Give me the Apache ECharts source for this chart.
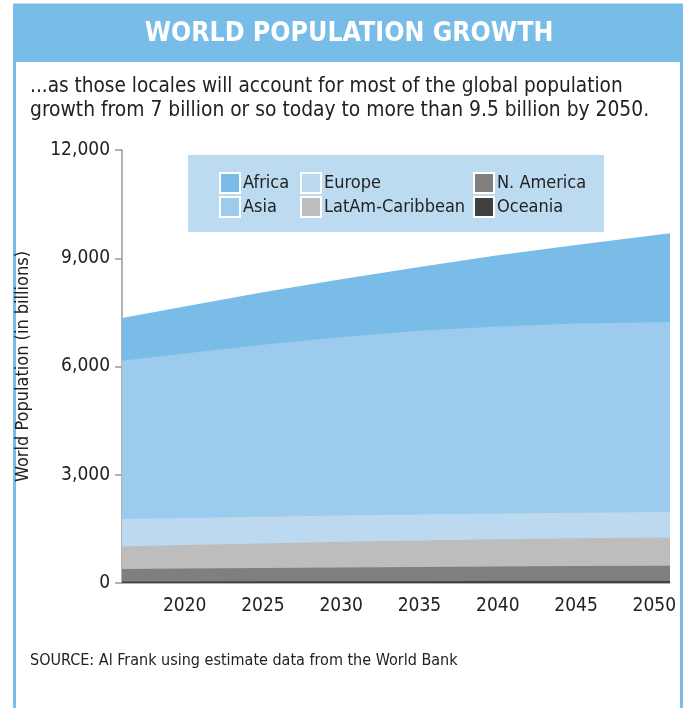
<!DOCTYPE html>
<html><head><meta charset="utf-8">
<script src="https://cdn.jsdelivr.net/npm/echarts@6/dist/echarts.min.js"></script>
<style>html,body{margin:0;padding:0;background:#fff}#c{width:688px;height:708px}</style>
</head><body><div id="c"></div>
<script>
const years = [2016, 2020, 2025, 2030, 2035, 2040, 2045, 2051];
const oceania = [40, 43, 46, 49, 51, 53, 55, 57];
const nAmerica = [348, 357, 369, 381, 394, 405, 415, 422];
const latAm = [626, 650, 680, 710, 735, 755, 770, 784];
const europe = [759, 750, 740, 730, 720, 712, 708, 704];
const asia = [4385, 4560, 4765, 4950, 5090, 5185, 5242, 5263];
const africa = [1183, 1300, 1460, 1600, 1770, 1970, 2180, 2465];
const xTickLabels = [2020, 2025, 2030, 2035, 2040, 2045, 2050];

const FONT = "'Liberation Sans Narrow', 'DejaVu Sans Condensed', sans-serif";
// bottom-to-top stacking order
const seriesDefs = [
  ['Oceania', oceania, '#404040'],
  ['N. America', nAmerica, '#7f7f7f'],
  ['LatAm-Caribbean', latAm, '#bdbdbd'],
  ['Europe', europe, '#bcd9f0'],
  ['Asia', asia, '#9ccbee'],
  ['Africa', africa, '#78bce7']
];
// cumulative sums so each series' top edge sits on the one below it
const running = years.map(() => 0);
const cumul = seriesDefs.map(([name, vals, color]) => {
  const tops = vals.map((v, i) => (running[i] += v));
  return { name, color, tops };
});
// draw from the top layer down so lower layers paint over upper ones
const series = cumul.slice().reverse().map(({ name, color, tops }) => ({
  name, type: 'line', symbol: 'none', smooth: false,
  lineStyle: { width: 0 }, itemStyle: { color },
  areaStyle: { color, opacity: 1 },
  data: years.map((y, i) => [y, tops[i]])
}));
const legendCommon = {
  orient: 'vertical', itemWidth: 20, itemHeight: 20, itemGap: 2, top: 172, padding: 0,
  icon: 'rect',
  itemStyle: { borderColor: '#ffffff', borderWidth: 2 },
  textStyle: { fontFamily: FONT, fontSize: 18, lineHeight: 20, color: '#222', padding: [0, 0, 0, -2] }
};
const chart = echarts.init(document.getElementById('c'), null, { renderer: 'canvas' });
chart.setOption({
  animation: false,
  backgroundColor: '#fff',
  graphic: [
    { type: 'rect', shape: { x: 14.5, y: 5, width: 667, height: 720 }, style: { fill: 'none', stroke: '#78bde8', lineWidth: 3 }, z: 0 },
    { type: 'rect', shape: { x: 13, y: 5, width: 670, height: 57 }, style: { fill: '#78bde8' }, z: 1 },
    { type: 'text', x: 349, y: 34, style: { text: 'WORLD POPULATION GROWTH', fill: '#fff', font: "bold 26.5px " + FONT, align: 'center', verticalAlign: 'middle' }, z: 2 },
    { type: 'text', x: 30, y: 87, style: { text: '...as those locales will account for most of the global population', fill: '#222', font: "20.6px " + FONT, verticalAlign: 'middle' }, z: 2 },
    { type: 'text', x: 30, y: 111, style: { text: 'growth from 7 billion or so today to more than 9.5 billion by 2050.', fill: '#222', font: "20.8px " + FONT, verticalAlign: 'middle' }, z: 2 },
    { type: 'rect', shape: { x: 188, y: 155, width: 416, height: 77 }, style: { fill: '#bcdbf1' }, z: 1 },
    { type: 'text', x: 30, y: 661, style: { text: 'SOURCE: Al Frank using estimate data from the World Bank', fill: '#222', font: "16px " + FONT, verticalAlign: 'middle' }, z: 2 }
  ],
  legend: [
    Object.assign({ left: 219, data: ['Africa', 'Asia'] }, legendCommon),
    Object.assign({ left: 300, data: ['Europe', 'LatAm-Caribbean'] }, legendCommon),
    Object.assign({ left: 473, data: ['N. America', 'Oceania'] }, legendCommon)
  ],
  grid: { left: 122, right: 18, top: 150, bottom: 125, containLabel: false },
  xAxis: {
    type: 'value', min: 2016, max: 2051,
    axisLine: { show: true, lineStyle: { color: '#9a9a9a', width: 1.5 } },
    axisTick: { show: false },
    splitLine: { show: false },
    axisLabel: { customValues: xTickLabels, formatter: v => String(v), fontFamily: FONT, fontSize: 19, color: '#222', margin: 14 }
  },
  yAxis: {
    type: 'value', min: 0, max: 12000, interval: 3000,
    name: 'World Population (in billions)', nameLocation: 'middle', nameGap: 90, nameRotate: 90,
    nameTextStyle: { fontFamily: FONT, fontSize: 18, color: '#222' },
    axisLine: { show: true, lineStyle: { color: '#9a9a9a', width: 1.5 } },
    axisTick: { show: true, length: 7, lineStyle: { color: '#9a9a9a', width: 1.5 } },
    splitLine: { show: false },
    axisLabel: { formatter: v => v.toLocaleString('en-US'), fontFamily: FONT, fontSize: 19, color: '#222', margin: 12 }
  },
  series
});
</script></body></html>
